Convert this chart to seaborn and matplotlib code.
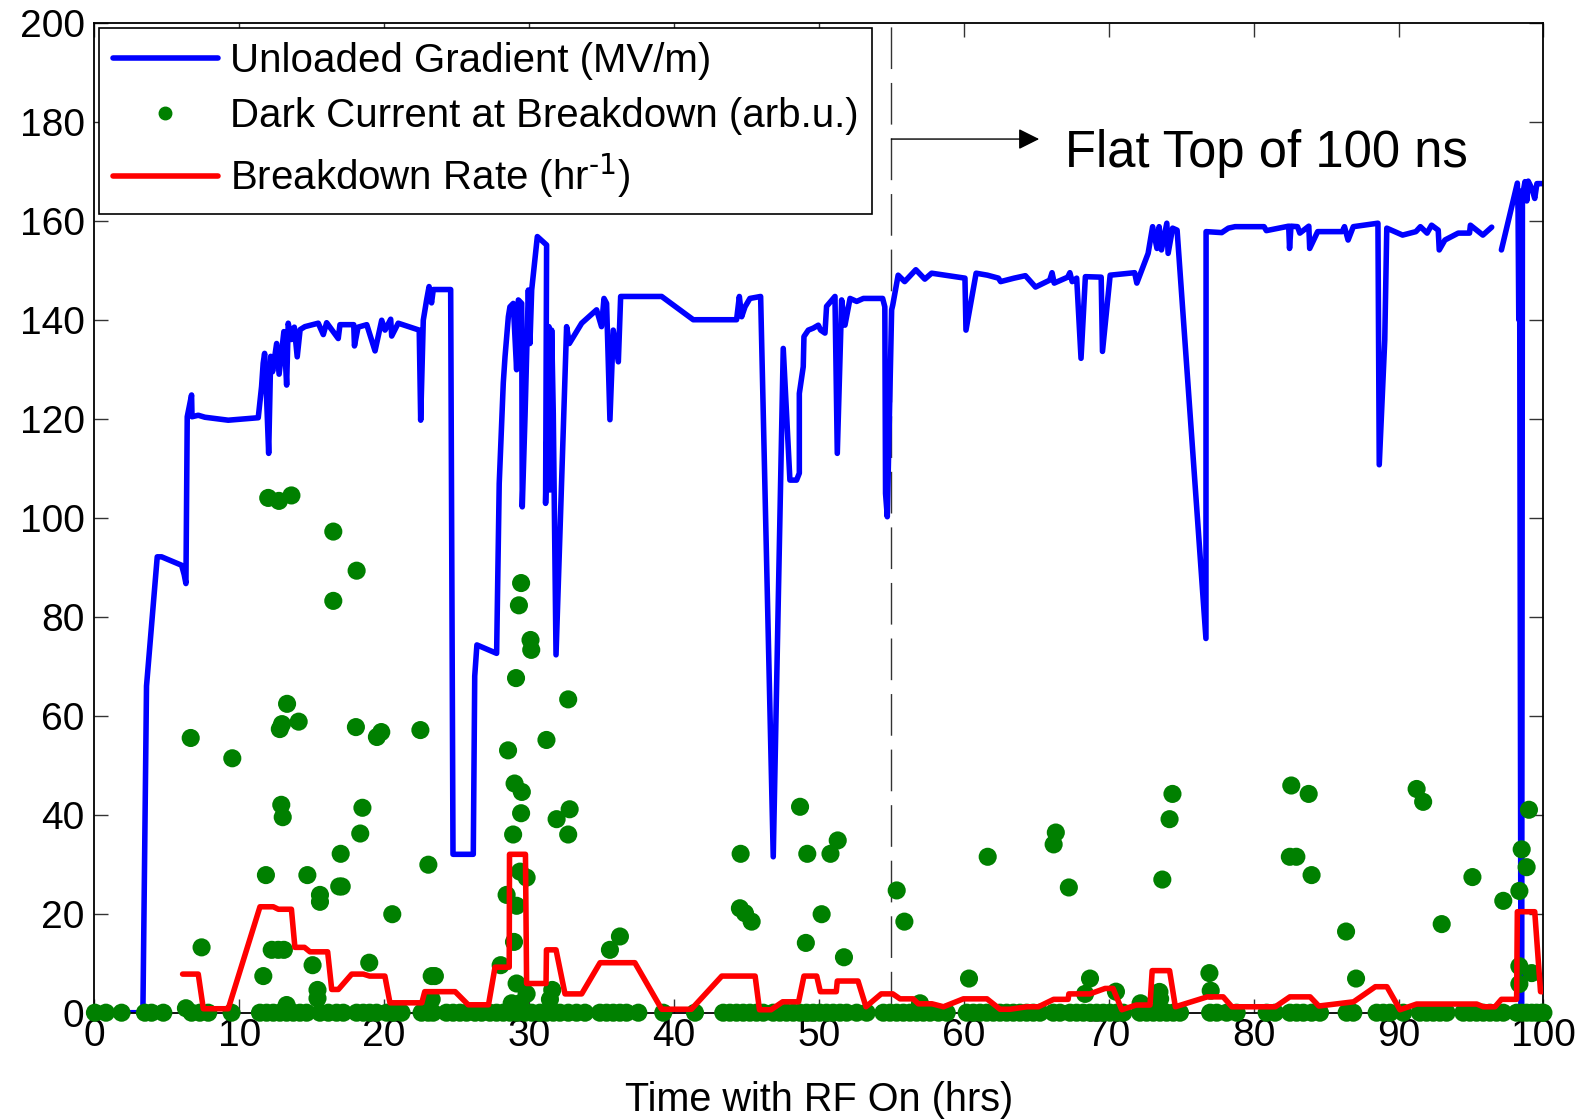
import numpy as np
import pandas as pd
import matplotlib
matplotlib.use("Agg")
import matplotlib.pyplot as plt
from matplotlib.lines import Line2D
import seaborn as sns

# ---- data ----
# unloaded gradient (MV/m); two segments (gap near 96.5-97 hrs)
grad_t1 = [0, 3.35, 3.6, 4.34, 4.64, 6.02, 6.2, 6.32, 6.41, 6.71, 6.74, 7.17, 7.63, 9.24,
           11.31, 11.54, 11.65, 11.75, 11.85, 12.03, 12.17, 12.3, 12.58, 12.75, 12.9, 13.08,
           13.27, 13.38, 13.6, 13.8, 14.0, 14.2, 14.53, 15.45, 15.8, 16.03, 16.83, 16.95,
           17.9, 17.95, 18.2, 18.8, 19.37, 19.83, 20.06, 20.45, 20.52, 20.97, 22.42, 22.52,
           22.7, 22.93, 23.1, 23.27, 23.39, 24.59, 24.75, 26.15, 26.25, 26.4, 27.76, 27.94,
           28.22, 28.34, 28.57, 28.68, 28.91, 29.14, 29.26, 29.49, 29.53, 29.72, 29.95, 30.06,
           30.18, 30.57, 31.21, 31.14, 31.37, 31.44, 31.56, 31.67, 31.86, 32.59, 32.78, 33.63,
           34.66, 35.0, 35.17, 35.35, 35.58, 35.81, 36.16, 36.32, 39.15, 41.33, 44.32, 44.51,
           44.67, 44.9, 45.24, 45.98, 46.85, 47.54, 48.0, 48.46, 48.65, 48.65, 48.92, 48.97,
           49.27, 49.61, 49.96, 50.12, 50.42, 50.53, 51.11, 51.27, 51.57, 51.8, 52.15, 52.61,
           53.07, 54.4, 54.55, 54.6, 54.72, 55.02, 55.1, 55.47, 55.92, 56.69, 57.31, 57.78,
           60.08, 60.15, 60.85, 61.63, 62.39, 62.54, 63.47, 64.25, 64.95, 65.93, 66.09, 66.24,
           67.17, 67.32, 67.48, 67.79, 68.09, 68.39, 69.48, 69.57, 70.1, 71.79, 71.94, 72.72,
           73.03, 73.33, 73.48, 73.64, 74.01, 74.1, 74.41, 74.72, 76.71, 76.72, 77.8, 78.26,
           78.72, 80.72, 80.88, 82.42, 82.48, 82.58, 83.03, 83.19, 83.81, 83.87, 84.42, 86.12,
           86.27, 86.52, 86.88, 88.58, 88.67, 89.05, 89.19, 90.28, 91.2, 91.51, 91.97, 92.28,
           92.74, 92.81, 93.2, 94.12, 94.9, 94.96, 95.82, 96.43]
grad_v1 = [0, 0, 66, 92.1, 92.1, 90.4, 88.5, 86.7, 120.4, 124.8, 120.4, 120.7, 120.3, 119.7,
           120.2, 126.5, 131.2, 133.2, 127, 113, 132.6, 129.5, 135.2, 129, 133, 137.6,
           126.8, 139.3, 136, 138.5, 132.5, 138, 138.6, 139.3, 137, 139.4, 136.2, 139,
           139, 134.7, 138.5, 139, 133.7, 139.9, 137.9, 140.1, 136.7, 139.3, 137.9, 119.7,
           139.9, 144, 146.7, 143.4, 146.1, 146.1, 32, 32, 68, 74.3, 72.6, 106.9,
           127.2, 132.5, 140.6, 142.6, 143.3, 129.9, 144, 143.3, 102.2, 120.4, 146, 135.2,
           146, 156.8, 155.1, 102.9, 138.6, 105.6, 137.9, 121.1, 72.3, 138.6, 135.2, 139.3,
           142, 138.6, 144.3, 143.3, 119.8, 137.9, 131.5, 144.7, 144.7, 140, 140, 144.7,
           140.6, 142.6, 144.3, 144.7, 31.5, 134.2, 107.6, 107.6, 109, 125.1, 130.5, 136.6,
           137.9, 138.3, 138.9, 137.9, 137.3, 142.7, 144.7, 113, 144, 138.9, 144.3, 143.7,
           144.3, 144.3, 142.6, 104.9, 100.2, 142, 143, 149, 147.7, 150.1, 148.2, 149.4,
           148.4, 137.9, 149.4, 149, 148.4, 147.7, 148.4, 148.9, 146.6, 148.0, 149.5, 147.4,
           148.6, 149.5, 147.7, 148.4, 132.2, 148.7, 148.6, 133.6, 149, 149.5, 147.4, 153.4,
           158.8, 154.4, 158.8, 154.1, 159.5, 153.4, 158.5, 158.1, 75.6, 157.8, 157.6, 158.5,
           158.8, 158.8, 158, 158.9, 154.4, 158.9, 158.8, 157.5, 158.9, 154.4, 157.8, 157.8,
           158.8, 156.1, 158.8, 159.5, 110.7, 135.9, 158.5, 157.1, 157.8, 158.8, 157.5, 159.1,
           158.1, 154.1, 156.1, 157.5, 157.5, 159.1, 157.1, 158.7]
grad_t2 = [97.1, 98.2, 98.25, 98.3, 98.35, 98.45, 98.5, 98.55, 98.73, 98.85, 98.95, 99.2,
           99.4, 99.55, 99.8, 100]
grad_v2 = [154.1, 167.6, 162, 140, 166, 0, 0, 165, 167.9, 164, 168, 166.5,
           164.5, 167.5, 167.5, 167.5]

# breakdown rate (1/hr)
rate_t = [6.09, 7.17, 7.52, 9.24, 11.43, 12.35, 12.7, 13.6, 13.84, 14.5, 14.88, 16.1, 16.38,
          16.84, 17.76, 18.56, 19.0, 20.05, 20.4, 22.6, 22.8, 24.9, 25.8, 27.2, 27.65, 28.63,
          28.65, 29.75, 29.83, 31.17, 31.2, 31.86, 32.48, 33.63, 34.9, 37.3, 39.15, 41.2,
          43.3, 45.6, 45.9, 46.7, 47.5, 48.6, 48.97, 49.85, 50.1, 51.2, 51.27, 52.7, 53.25,
          54.3, 55.1, 55.6, 56.5, 56.86, 57.8, 58.6, 59.97, 61.6, 62.5, 63.2, 64.35, 65.15,
          66.2, 67.2, 67.25, 68.7, 69.75, 70.3, 70.9, 71.9, 72.85, 73.0, 74.2, 74.6, 76.8,
          77.9, 78.5, 81.5, 82.5, 83.9, 84.5, 86.9, 88.4, 89.2, 90.1, 91.25, 95.4, 95.85,
          96.66, 97.1, 98.15, 98.2, 99.4, 99.8, 100]
rate_v = [7.8, 7.8, 0.8, 0.8, 21.4, 21.4, 20.9, 20.9, 13.2, 13.2, 12.3, 12.3, 4.7,
          4.7, 7.8, 7.8, 7.4, 7.4, 2.0, 2.0, 4.25, 4.25, 1.6, 1.6, 9.2, 9.2,
          32, 32, 5.9, 5.9, 12.7, 12.7, 3.8, 3.8, 10.1, 10.1, 0.7, 0.7,
          7.4, 7.4, 0.6, 0.6, 2.2, 2.2, 7.4, 7.4, 4.25, 4.25, 6.4, 6.4, 1.2,
          3.8, 3.8, 2.8, 2.8, 1.8, 1.8, 1.2, 2.8, 2.8, 0.7, 0.7, 1.2, 1.2,
          2.7, 2.7, 3.8, 3.8, 4.9, 4.9, 0.6, 1.55, 1.55, 8.5, 8.5, 1.2, 3.2,
          3.2, 1.2, 1.2, 3.2, 3.2, 1.35, 2.2, 5.25, 5.25, 0.6, 1.75, 1.75, 1.2,
          1.2, 2.7, 2.7, 20.4, 20.4, 4.25, 4.25]

# dark current at breakdown (arb.u.), non-zero events
dark_t = [6.32, 6.65, 7.4, 9.52, 11.66, 11.84, 12.0, 12.74, 13.6, 12.24, 12.69, 13.08, 13.27,
          12.8, 12.95, 13.3, 14.1, 12.9, 13.0, 14.7, 15.06, 15.4, 15.4, 15.57, 15.57, 16.49,
          16.49, 16.9, 17.07, 17.0, 18.1, 18.05, 18.5, 18.35, 18.97, 19.5, 19.8, 20.56, 22.5,
          23.05, 23.28, 23.5, 23.28,
          28.04, 28.45, 28.55, 28.8, 29.37, 28.9, 28.96, 29.0, 29.1, 29.14, 29.14, 29.3, 29.45,
          29.45, 29.5, 29.37, 29.83, 29.83, 30.1, 30.15, 31.2, 31.44, 31.6, 31.9, 32.7, 32.8,
          32.7, 35.58, 36.27, 44.55, 44.9, 44.6, 45.36, 48.7, 49.1, 49.2, 50.19, 50.8, 51.3,
          51.73,
          55.37, 55.9, 56.98, 60.36, 61.65, 66.2, 66.35, 67.25, 68.37, 68.71, 70.5, 72.2,
          73.5, 73.55, 73.7, 74.2, 74.4, 76.95, 77.04, 82.6, 82.5, 82.95, 83.8, 84.0, 86.38,
          87.07, 91.25, 91.7, 92.98, 95.1, 97.23, 98.34, 98.34, 98.34, 98.5, 98.84, 99.0,
          99.19]
dark_v = [0.9, 55.5, 13.2, 51.4, 7.4, 27.8, 104, 103.4, 104.5, 12.7, 12.7, 12.7, 1.55,
          57.3, 58.3, 62.4, 58.8, 42, 39.5, 27.8, 9.6, 4.6, 2.9, 23.8, 22.4, 97.2,
          83.2, 25.5, 25.5, 32.1, 89.3, 57.7, 41.4, 36.2, 10.1, 55.7, 56.7, 19.9, 57.1,
          29.9, 7.4, 7.4, 2.7,
          9.6, 23.8, 53, 1.9, 1.9, 36, 14.3, 46.3, 67.6, 21.6, 5.9, 82.3, 86.8,
          40.3, 44.6, 28.5, 27.3, 3.8, 75.3, 73.3, 55.1, 2.7, 4.6, 39.1, 63.3, 41.1,
          36.0, 12.7, 15.4, 21.1, 20.1, 32.1, 18.4, 41.6, 14.1, 32.1, 19.9, 32.1, 34.8,
          11.2,
          24.7, 18.4, 1.9, 6.9, 31.5, 34.0, 36.4, 25.3, 3.8, 6.9, 4.25, 1.9,
          4.2, 2.8, 26.9, 39.1, 44.2, 8.0, 4.45, 45.9, 31.5, 31.5, 44.2, 27.8, 16.4,
          6.9, 45.2, 42.6, 17.9, 27.4, 22.6, 24.6, 9.4, 5.8, 33.0, 29.4, 41.0,
          8.0]
# breakdowns with zero dark current
dark_t_zero = [0.04, 0.8, 1.88, 3.49, 3.95, 4.76, 6.71, 7.28, 7.86, 9.47, 11.43, 11.89, 12.35,
               12.81, 13.27, 13.73, 14.19, 14.65, 15.57, 16.15, 16.72, 17.18, 18.1, 18.56, 19.0,
               19.48, 20.17, 20.63, 21.2, 22.58, 23.04, 23.38, 24.3, 24.76,
               25.23, 25.69, 26.27, 26.73, 27.3, 27.76, 28.22, 28.68, 29.14, 29.72, 30.18, 30.75,
               31.21, 31.67, 32.13, 32.71, 33.28, 33.86, 34.89, 35.35, 35.81, 36.27, 36.73, 37.54,
               39.26, 41.45, 43.4, 43.86, 44.32, 44.78, 45.24, 45.7, 46.16, 46.85, 47.31, 47.77,
               48.23, 48.69, 49.15, 49.61, 50.07, 50.53, 50.99, 51.46, 51.92,
               52.61, 53.3, 54.45, 54.91, 55.37, 55.83, 56.29, 56.75, 57.21, 57.67, 58.25, 58.82,
               60.2, 60.66, 61.12, 61.58, 62.04, 62.5, 62.96, 63.42, 63.88, 64.34, 64.8, 65.26,
               66.18, 66.64, 67.33, 67.79, 68.25, 68.71, 69.17, 69.63, 70.09, 70.55, 71.01, 72.16,
               72.62, 73.08, 73.54, 74.0, 74.46, 74.92, 77.0, 77.46,
               78.14, 78.83, 80.9, 81.48, 82.51, 82.97, 83.43, 84.01, 84.58, 86.42, 86.88, 88.49,
               88.95, 89.41, 90.33, 91.48, 91.94, 92.4, 92.86, 93.32, 94.47, 94.93, 95.39, 95.85,
               96.31, 96.77, 97.23, 98.15, 98.5, 98.84, 99.19, 99.53, 99.88, 100]

x_ticks = list(range(0, 101, 10))
y_ticks = list(range(0, 201, 20))
flat_top_start = 55

# ---- style ----
sns.set_style("ticks")
plt.rcParams["font.family"] = ["Liberation Sans", "DejaVu Sans"]
plt.rcParams["mathtext.default"] = "regular"
for key in ["text.color", "axes.labelcolor", "xtick.labelcolor", "ytick.labelcolor"]:
    plt.rcParams[key] = "black"

fig = plt.figure(figsize=(15.91, 11.2), dpi=100)
ax = fig.add_axes([0.0593, 0.0958, 0.9108, 0.8839])

grad = pd.DataFrame({
    "t": grad_t1 + grad_t2,
    "v": grad_v1 + grad_v2,
    "seg": [0] * len(grad_t1) + [1] * len(grad_t2),
})
dark = pd.DataFrame({
    "t": dark_t + dark_t_zero,
    "v": dark_v + [0.0] * len(dark_t_zero),
})

sns.lineplot(data=grad, x="t", y="v", units="seg", estimator=None, sort=False,
             color="#0000ff", linewidth=4, ax=ax, zorder=2)
sns.scatterplot(data=dark, x="t", y="v", color="#008000", s=170, edgecolor="none",
                linewidth=0, ax=ax, zorder=3, clip_on=False)
sns.lineplot(x=rate_t, y=rate_v, sort=False, estimator=None, color="#ff0000", linewidth=4,
             ax=ax, zorder=4)

# start of the 100 ns flat top
ax.plot([flat_top_start, flat_top_start], [0, 200], color="#333333", lw=1,
        dashes=(30, 10), zorder=1)
ax.annotate("", xy=(65.2, 176.5), xytext=(flat_top_start, 176.5),
            arrowprops=dict(arrowstyle="-|>", color="k", lw=1, mutation_scale=32,
                            shrinkA=0, shrinkB=0))
ax.text(67.0, 173.6, "Flat Top of 100 ns", fontsize=36.5, va="center", ha="left")

ax.set_xlim(0, 100)
ax.set_ylim(0, 200)
ax.set_xticks(x_ticks)
ax.set_yticks(y_ticks)
ax.tick_params(direction="in", top=True, right=True, length=10, width=1, labelsize=28,
               color="#333333")
ax.tick_params(axis="y", pad=7)
ax.tick_params(axis="x", pad=4)
for sp in ax.spines.values():
    sp.set_visible(True)
    sp.set_linewidth(1.3)
    sp.set_color("black")
ax.set_xlabel("Time with RF On (hrs)", fontsize=28.5, labelpad=19)
ax.set_ylabel("")

handles = [
    Line2D([], [], color="#0000ff", lw=4),
    Line2D([], [], color="#008000", ls="none", marker="o", ms=9),
    Line2D([], [], color="#ff0000", lw=4),
]
labels = ["Unloaded Gradient (MV/m)", "Dark Current at Breakdown (arb.u.)",
          r"Breakdown Rate (hr$^{\text{-1}}$)"]
leg = ax.legend(handles, labels, loc="upper left", bbox_to_anchor=(0.003, 0.995),
                borderaxespad=0, fontsize=29, frameon=True, fancybox=False,
                framealpha=1, edgecolor="black", handlelength=2.6, handletextpad=0.3,
                labelspacing=0.42, borderpad=0.35)
leg.get_frame().set_linewidth(1.2)
leg.set_zorder(10)

fig.savefig("out.png", dpi=100)
